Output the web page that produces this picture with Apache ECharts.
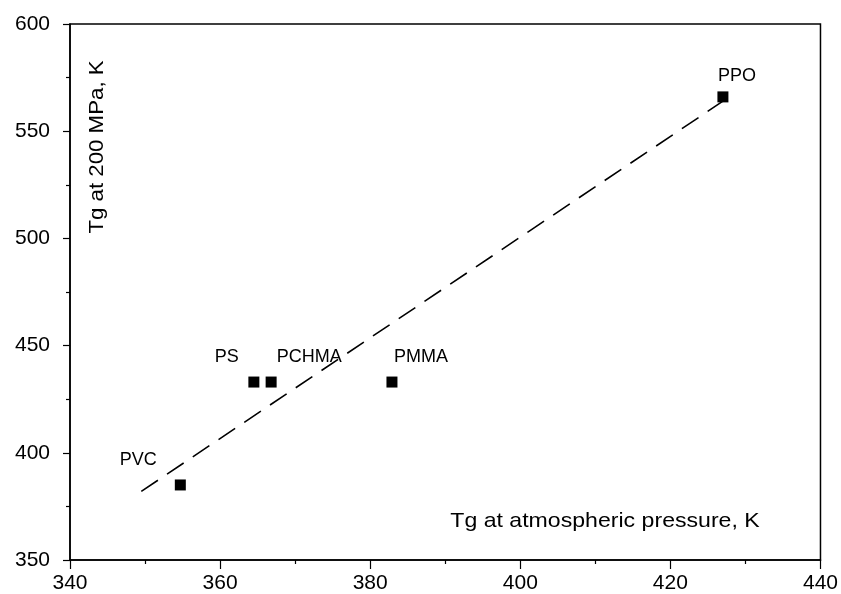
<!DOCTYPE html>
<html>
<head>
<meta charset="utf-8">
<script src="https://cdn.jsdelivr.net/npm/echarts@6/dist/echarts.min.js"></script>
<style>
  html, body { margin: 0; padding: 0; background: #fff; }
  #chart { width: 841px; height: 594px; }
</style>
</head>
<body>
<div id="chart"></div>
<script>
// polymers and their Tg values
var polymers = ['PVC', 'PS', 'PCHMA', 'PMMA', 'PPO'];
var tgAtm = [354.7, 364.5, 366.8, 382.9, 427.0];
var tg200 = [385, 433, 433, 433, 566];
// dashed fit line end points
var fitX = [349.5, 427];
var fitY = [382, 564];

// where each name sits relative to its marker
var labelShift = {
  PVC: [-42, -25],
  PS: [-27, -25],
  PCHMA: [38, -25],
  PMMA: [29, -25],
  PPO: [14, -21]
};

var myChart = echarts.init(document.getElementById('chart'));

var points = polymers.map(function (n, i) {
  return {
    name: n,
    value: [tgAtm[i], tg200[i]],
    label: { offset: labelShift[n] }
  };
});
var fitLine = fitX.map(function (x, i) { return [x, fitY[i]]; });

var font = 'Liberation Sans, Arial, sans-serif';

var option = {
  backgroundColor: '#fff',
  animation: false,
  grid: {
    left: 70, right: 20, top: 24, bottom: 34,
    show: true, borderColor: '#000', borderWidth: 1.5
  },
  xAxis: {
    type: 'value', min: 340, max: 440, interval: 20,
    axisLine: { lineStyle: { color: '#000', width: 1.5 } },
    axisTick: { length: 9, lineStyle: { color: '#000', width: 1.2 } },
    minorTick: { show: true, splitNumber: 2, length: 4, lineStyle: { color: '#000', width: 1.2 } },
    splitLine: { show: false },
    axisLabel: { color: '#000', fontSize: 21, fontFamily: font, margin: 13 }
  },
  yAxis: {
    type: 'value', min: 350, max: 600, interval: 50,
    axisLine: { lineStyle: { color: '#000', width: 1.5 } },
    axisTick: { length: 7, lineStyle: { color: '#000', width: 1.2 } },
    minorTick: { show: true, splitNumber: 2, length: 4, lineStyle: { color: '#000', width: 1.2 } },
    splitLine: { show: false },
    axisLabel: { color: '#000', fontSize: 21, fontFamily: font, margin: 20 }
  },
  series: [
    {
      type: 'line',
      data: fitLine,
      symbol: 'none',
      lineStyle: { color: '#000', width: 1.6, type: [20, 11] },
      z: 2
    },
    {
      type: 'scatter',
      data: points,
      symbol: 'rect',
      symbolSize: 11,
      itemStyle: { color: '#000', opacity: 1 },
      label: {
        show: true,
        position: 'inside',
        formatter: '{b}',
        color: '#000',
        opacity: 1,
        fontSize: 18,
        fontFamily: font
      },
      z: 3
    }
  ],
  graphic: [
    {
      type: 'text',
      x: 97, y: 147,
      rotation: Math.PI / 2,
      scaleX: 1.06,
      style: {
        text: 'Tg at 200 MPa, K',
        fill: '#000',
        font: '21px ' + font,
        align: 'center',
        verticalAlign: 'middle'
      }
    },
    {
      type: 'text',
      x: 605, y: 521,
      scaleX: 1.1,
      style: {
        text: 'Tg at atmospheric pressure, K',
        fill: '#000',
        font: '21px ' + font,
        align: 'center',
        verticalAlign: 'middle'
      }
    }
  ]
};
myChart.setOption(option);
</script>
</body>
</html>
